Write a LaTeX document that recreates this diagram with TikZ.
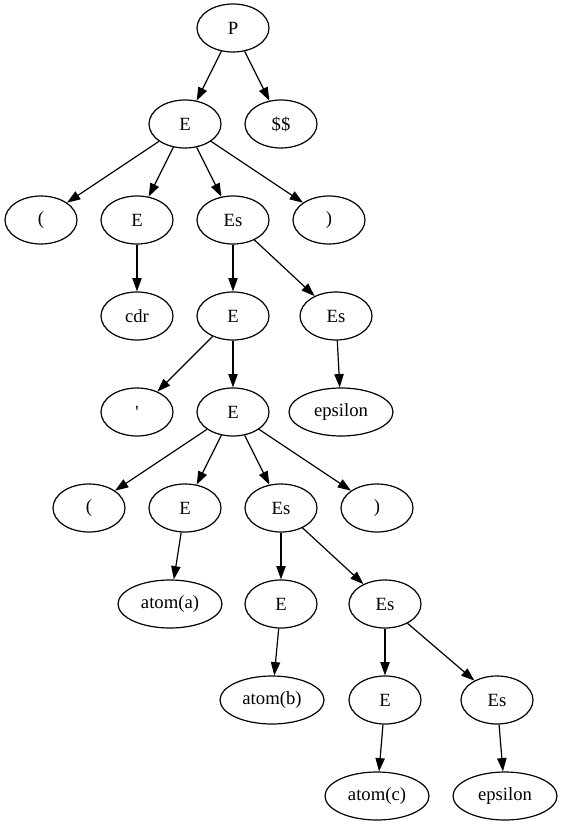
\documentclass[tikz,border=0pt]{standalone}
\usepackage{fontspec}
\setmainfont{Liberation Serif}
\usepackage{tikz}
\usetikzlibrary{arrows.meta, shapes.geometric}

\begin{document}
\begin{tikzpicture}[x=0.75pt,y=-0.75pt,
	tnode/.style={draw,ellipse,line width=0.9pt,minimum width=54pt,minimum height=36pt,inner sep=0pt,font=\fontsize{14}{16}\selectfont},
	wnode/.style={tnode,minimum width=78pt},
	edge/.style={line width=0.9pt,-{Triangle[length=10pt,width=7pt]}}]
	\useasboundingbox (0,0) rectangle (561,827);
	
	\node[tnode] (p) at (233,28){P};
	
	\node[tnode] (e1) at (185,124){E};
	\node[tnode] (dollar) at (281,124){\$\$};
	
	\node[tnode] (lp1) at (41,220){(};
	\node[tnode] (e2) at (137,220){E};
	\node[tnode] (es1) at (233,220){Es};
	\node[tnode] (rp1) at (329,220){)};
	
	\node[tnode] (cdr) at (137,316){cdr};
	\node[tnode] (e3) at (233,316){E};
	\node[tnode] (es2) at (336,316){Es};
	
	\node[tnode] (quote) at (137,412){\textquotesingle};
	\node[tnode] (e4) at (233,412){E};
	\node[wnode] (eps1) at (341,412){epsilon};
	
	\node[tnode] (lp2) at (89,508){(};
	\node[tnode] (e5) at (185,508){E};
	\node[tnode] (es3) at (281,508){Es};
	\node[tnode] (rp2) at (377,508){)};
	
	\node[wnode] (atoma) at (170,604){atom(a)};
	\node[tnode] (e6) at (281,604){E};
	\node[tnode] (es4) at (385,604){Es};
	
	\node[wnode] (atomb) at (272,700){atom(b)};
	\node[tnode] (e7) at (385,700){E};
	\node[tnode] (es5) at (497,700){Es};
	
	\node[wnode] (atomc) at (377,796){atom(c)};
	\node[wnode] (eps2) at (505,796){epsilon};
	
	\draw[edge] (p) -- (e1);
	\draw[edge] (p) -- (dollar);
	\draw[edge] (e1) -- (lp1);
	\draw[edge] (e1) -- (e2);
	\draw[edge] (e1) -- (es1);
	\draw[edge] (e1) -- (rp1);
	\draw[edge] (e2) -- (cdr);
	\draw[edge] (es1) -- (e3);
	\draw[edge] (es1) -- (es2);
	\draw[edge] (e3) -- (quote);
	\draw[edge] (e3) -- (e4);
	\draw[edge] (es2) -- (eps1);
	\draw[edge] (e4) -- (lp2);
	\draw[edge] (e4) -- (e5);
	\draw[edge] (e4) -- (es3);
	\draw[edge] (e4) -- (rp2);
	\draw[edge] (e5) -- (atoma);
	\draw[edge] (es3) -- (e6);
	\draw[edge] (es3) -- (es4);
	\draw[edge] (e6) -- (atomb);
	\draw[edge] (es4) -- (e7);
	\draw[edge] (es4) -- (es5);
	\draw[edge] (e7) -- (atomc);
	\draw[edge] (es5) -- (eps2);
\end{tikzpicture}
\end{document}
